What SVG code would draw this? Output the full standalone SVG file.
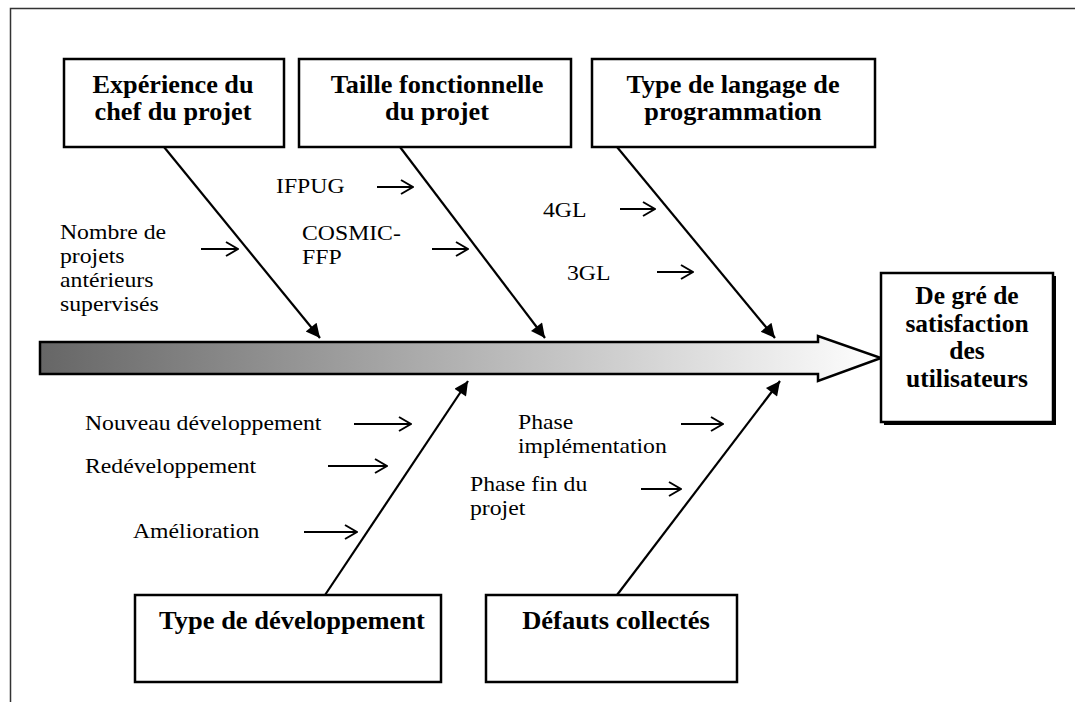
<svg xmlns="http://www.w3.org/2000/svg" width="1075" height="702" viewBox="0 0 1075 702">
<style>
.r{font-family:'Liberation Serif','Times New Roman','DejaVu Serif',serif;font-size:21px;fill:#000}
.b{font-family:'Liberation Serif','Times New Roman','DejaVu Serif',serif;font-size:25px;font-weight:bold;fill:#000;text-anchor:middle}
.box{fill:#fff;stroke:#000;stroke-width:2.5}
.bone{stroke:#000;stroke-width:2.2;fill:none;marker-end:url(#fa)}
.sm{stroke:#000;stroke-width:2;fill:none;marker-end:url(#oa)}
</style>
<defs>
<linearGradient id="g" x1="0" y1="0" x2="1" y2="0">
<stop offset="0" stop-color="#666"/>
<stop offset="1" stop-color="#fff"/>
</linearGradient>
<marker id="fa" viewBox="0 0 10 10" refX="10" refY="5" markerWidth="17" markerHeight="14" markerUnits="userSpaceOnUse" orient="auto"><path d="M0,0 L10,5 L0,10 z" fill="#000"/></marker>
<marker id="oa" viewBox="0 0 14 16" refX="13" refY="8" markerWidth="14" markerHeight="16" markerUnits="userSpaceOnUse" orient="auto"><path d="M1,1 L13,8 L1,15" fill="none" stroke="#000" stroke-width="2"/></marker>
</defs>
<rect width="1075" height="702" fill="#fff"/>
<path d="M10.5,702 V8.5 H1075" fill="none" stroke="#333" stroke-width="1.5"/>

<g id="connectors">
<path d="M40,342 H818 V336 L881,358 L818,381 V374 H40 Z" fill="url(#g)" stroke="#000" stroke-width="2.5"/>
<line class="bone" x1="164" y1="147" x2="320" y2="338"/>
<line class="bone" x1="400" y1="147" x2="545" y2="338"/>
<line class="bone" x1="617" y1="147" x2="775" y2="338"/>
<line class="bone" x1="325" y1="595" x2="468" y2="381"/>
<line class="bone" x1="617" y1="595" x2="780" y2="381"/>
<line class="sm" x1="377" y1="187" x2="413" y2="187"/>
<line class="sm" x1="201" y1="249" x2="238" y2="249"/>
<line class="sm" x1="432" y1="249" x2="468" y2="249"/>
<line class="sm" x1="620" y1="209" x2="655" y2="209"/>
<line class="sm" x1="657" y1="272" x2="693" y2="272"/>
<line class="sm" x1="354" y1="424" x2="411" y2="424"/>
<line class="sm" x1="328" y1="466" x2="387" y2="466"/>
<line class="sm" x1="304" y1="532" x2="357" y2="532"/>
<line class="sm" x1="681" y1="424" x2="723" y2="424"/>
<line class="sm" x1="641" y1="489" x2="681" y2="489"/>
</g>

<g id="labels">
<text class="r" transform="translate(276 193) scale(1.13 1)">IFPUG</text>
<text class="r" transform="translate(60 239) scale(1.13 1)">Nombre de</text>
<text class="r" transform="translate(60 263) scale(1.13 1)">projets</text>
<text class="r" transform="translate(60 287) scale(1.13 1)">antérieurs</text>
<text class="r" transform="translate(60 311) scale(1.13 1)">supervisés</text>
<text class="r" transform="translate(302 240) scale(1.13 1)">COSMIC-</text>
<text class="r" transform="translate(302 264) scale(1.13 1)">FFP</text>
<text class="r" transform="translate(543 217) scale(1.13 1)">4GL</text>
<text class="r" transform="translate(567 280) scale(1.13 1)">3GL</text>
<text class="r" transform="translate(85 430) scale(1.13 1)">Nouveau développement</text>
<text class="r" transform="translate(85 473) scale(1.13 1)">Redéveloppement</text>
<text class="r" transform="translate(133 538) scale(1.13 1)">Amélioration</text>
<text class="r" transform="translate(518 429) scale(1.13 1)">Phase</text>
<text class="r" transform="translate(518 453) scale(1.13 1)">implémentation</text>
<text class="r" transform="translate(470 491) scale(1.13 1)">Phase fin du</text>
<text class="r" transform="translate(470 515) scale(1.13 1)">projet</text>
</g>

<g id="n-experience">
<rect class="box" x="64" y="59" width="220" height="88"/>
<text class="b" transform="translate(173 93) scale(1.05 1)">Expérience du</text>
<text class="b" transform="translate(173 120) scale(1.05 1)">chef du projet</text>
</g>
<g id="n-taille">
<rect class="box" x="299" y="59" width="272" height="88"/>
<text class="b" transform="translate(437 93) scale(1.05 1)">Taille fonctionnelle</text>
<text class="b" transform="translate(437 120) scale(1.05 1)">du projet</text>
</g>
<g id="n-langage">
<rect class="box" x="592" y="59" width="283" height="88"/>
<text class="b" transform="translate(733 93) scale(1.05 1)">Type de langage de</text>
<text class="b" transform="translate(733 120) scale(1.05 1)">programmation</text>
</g>
<g id="n-satisfaction">
<rect x="884" y="276" width="172" height="149" fill="#000"/>
<rect class="box" x="881" y="273" width="172" height="149"/>
<text class="b" transform="translate(967 304) scale(1.02 1)">De gré de</text>
<text class="b" transform="translate(967 332) scale(1.02 1)">satisfaction</text>
<text class="b" transform="translate(967 359) scale(1.02 1)">des</text>
<text class="b" transform="translate(967 387) scale(1.02 1)">utilisateurs</text>
</g>
<g id="n-developpement">
<rect class="box" x="135" y="595" width="306" height="87"/>
<text class="b" transform="translate(292 629) scale(1.06 1)">Type de développement</text>
</g>
<g id="n-defauts">
<rect class="box" x="486" y="595" width="251" height="87"/>
<text class="b" transform="translate(616 629) scale(1.06 1)">Défauts collectés</text>
</g>
</svg>
